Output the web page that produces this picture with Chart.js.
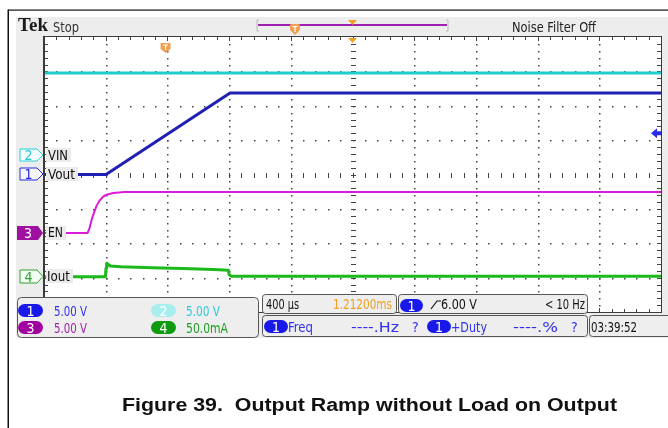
<!DOCTYPE html>
<html>
<head>
<meta charset="utf-8">
<script src="https://cdn.jsdelivr.net/npm/chart.js@4"></script>
<style>
html, body { margin: 0; padding: 0; background: #fff; }
#wrap { position: relative; width: 668px; height: 428px; }
#scope, #overlay { position: absolute; left: 0; top: 0; }
#overlay text { font-family: "DejaVu Sans Condensed", "DejaVu Sans", sans-serif; font-size: 14px; white-space: pre; }
#overlay .cap { font-family: "Liberation Sans", Arial, sans-serif; font-weight: bold; font-size: 18px; }
#overlay .tek { font-family: "Liberation Serif", serif; font-weight: bold; font-size: 19px; }
</style>
</head>
<body>
<div id="wrap">
<canvas id="scope" width="668" height="428"></canvas>
<svg id="overlay" width="668" height="428" xmlns="http://www.w3.org/2000/svg">
  <!-- top status bar -->
  <text class="tek" x="18" y="31" textLength="30" lengthAdjust="spacingAndGlyphs" fill="#1a1a1a">Tek</text>
  <text x="53" y="31.5" textLength="26" lengthAdjust="spacingAndGlyphs" fill="#333">Stop</text>
  <path d="M259 20 L257 20 L257 31 L259 31" fill="none" stroke="#bbb" stroke-width="1"/>
  <path d="M446 20 L448 20 L448 31 L446 31" fill="none" stroke="#bbb" stroke-width="1"/>
  <line x1="258" y1="25" x2="447" y2="25" stroke="#a020b0" stroke-width="2"/>
  <path d="M290 25 Q290 24 292 24 L298 24 Q300 24 300 25 L300 30 L295 35 L290 30 Z" fill="#f0a050"/>
  <path d="M292.5 26.5 L297.5 26.5 M295 26.5 L295 32" stroke="#fff" stroke-width="1.2"/>
  <path d="M348 20 L357 20 L352.5 25 Z" fill="#f0a020"/>
  <text x="512" y="31.5" textLength="84" lengthAdjust="spacingAndGlyphs" fill="#222">Noise Filter Off</text>

  <!-- channel reference markers -->
  <polygon points="20,149 37,149 43,155 37,161 20,161" fill="#f4ffff" stroke="#28d0d8" stroke-width="1"/>
  <text x="28.5" y="160" text-anchor="middle" fill="#28c8d0">2</text>
  <rect x="46" y="148" width="25" height="14" fill="#ebebeb"/>
  <text x="48" y="160" textLength="20" lengthAdjust="spacingAndGlyphs" fill="#111">VIN</text>

  <polygon points="20,168 37,168 43,174 37,180 20,180" fill="#f6f6ff" stroke="#2a2ae0" stroke-width="1"/>
  <text x="28.5" y="179" text-anchor="middle" fill="#2a2ae0">1</text>
  <rect x="46" y="167" width="32" height="14" fill="#ebebeb"/>
  <text x="48" y="178.5" textLength="27" lengthAdjust="spacingAndGlyphs" fill="#111">Vout</text>

  <polygon points="17,226 38,226 43,233 38,240 17,240" fill="#a010a0"/>
  <text x="28" y="238" text-anchor="middle" fill="#fff">3</text>
  <rect x="46" y="226" width="20" height="14" fill="#ebebeb"/>
  <text x="48" y="237" textLength="15" lengthAdjust="spacingAndGlyphs" fill="#111">EN</text>

  <polygon points="20,270 37,270 43,276.5 37,283 20,283" fill="#f4fff4" stroke="#30a030" stroke-width="1"/>
  <text x="28.5" y="281.5" text-anchor="middle" fill="#30a030">4</text>
  <rect x="46" y="269" width="27" height="14" fill="#ebebeb"/>
  <text x="47" y="280.5" textLength="23" lengthAdjust="spacingAndGlyphs" fill="#111">Iout</text>

  <!-- vertical settings panel -->
  <rect x="17.5" y="297.5" width="241" height="40" rx="4" fill="#eeeeee" stroke="#555" stroke-width="1"/>
  <rect x="18" y="304" width="25" height="13" rx="6.5" fill="#1818e8"/>
  <text x="30.5" y="315.5" text-anchor="middle" fill="#fff" font-size="13">1</text>
  <text x="54" y="315.5" textLength="33" lengthAdjust="spacingAndGlyphs" fill="#3030ee">5.00 V</text>
  <rect x="151" y="304" width="25" height="13" rx="6.5" fill="#a8eeee"/>
  <text x="163.5" y="315.5" text-anchor="middle" fill="#fff" font-size="13">2</text>
  <text x="186" y="315.5" textLength="34" lengthAdjust="spacingAndGlyphs" fill="#30c8d8">5.00 V</text>
  <rect x="18" y="321" width="25" height="13" rx="6.5" fill="#a000a0"/>
  <text x="30.5" y="332.5" text-anchor="middle" fill="#fff" font-size="13">3</text>
  <text x="54" y="332.5" textLength="33" lengthAdjust="spacingAndGlyphs" fill="#a020a8">5.00 V</text>
  <rect x="151" y="321" width="25" height="13" rx="6.5" fill="#109a10"/>
  <text x="163.5" y="332.5" text-anchor="middle" fill="#fff" font-size="13">4</text>
  <text x="186" y="332.5" textLength="42" lengthAdjust="spacingAndGlyphs" fill="#20a020">50.0mA</text>

  <!-- horizontal panel -->
  <rect x="262.5" y="294.5" width="134" height="19" rx="3" fill="#eeeeee" stroke="#555" stroke-width="1"/>
  <text x="266" y="309" textLength="33" lengthAdjust="spacingAndGlyphs" fill="#111">400 µs</text>
  <text x="333" y="309" textLength="59" lengthAdjust="spacingAndGlyphs" fill="#f0a020">1.21200ms</text>

  <!-- trigger panel -->
  <rect x="398.5" y="294.5" width="189" height="19" rx="3" fill="#eeeeee" stroke="#555" stroke-width="1"/>
  <rect x="400" y="299" width="23" height="13" rx="6.5" fill="#1818e8"/>
  <text x="411.5" y="310.5" text-anchor="middle" fill="#fff" font-size="13">1</text>
  <path d="M431 309 L437 301 L441 301" fill="none" stroke="#111" stroke-width="1.2"/>
  <text x="441" y="309" textLength="36" lengthAdjust="spacingAndGlyphs" fill="#111">6.00 V</text>
  <text x="545" y="309" textLength="40" lengthAdjust="spacingAndGlyphs" fill="#111">&lt; 10 Hz</text>

  <!-- measurement panel -->
  <rect x="262.5" y="315.5" width="325" height="21" rx="3" fill="#eeeeee" stroke="#555" stroke-width="1"/>
  <rect x="264" y="320" width="24" height="13" rx="6.5" fill="#1818e8"/>
  <text x="276" y="331.5" text-anchor="middle" fill="#fff" font-size="13">1</text>
  <text x="288" y="332" textLength="25" lengthAdjust="spacingAndGlyphs" fill="#3030ee">Freq</text>
  <text x="351" y="332" textLength="48" lengthAdjust="spacingAndGlyphs" fill="#3030ee">----.Hz</text>
  <text x="412" y="332" fill="#3030ee">?</text>
  <rect x="427" y="320" width="24" height="13" rx="6.5" fill="#1818e8"/>
  <text x="439" y="331.5" text-anchor="middle" fill="#fff" font-size="13">1</text>
  <text x="451" y="332" textLength="36" lengthAdjust="spacingAndGlyphs" fill="#3030ee">+Duty</text>
  <text x="513" y="332" textLength="45" lengthAdjust="spacingAndGlyphs" fill="#3030ee">----.%</text>
  <text x="571" y="332" fill="#3030ee">?</text>

  <!-- clock -->
  <rect x="589.5" y="315.5" width="90" height="21" rx="3" fill="#eeeeee" stroke="#555" stroke-width="1"/>
  <text x="591" y="332" textLength="46" lengthAdjust="spacingAndGlyphs" fill="#111">03:39:52</text>

  <!-- caption -->
  <text class="cap" x="122" y="411" textLength="495" lengthAdjust="spacingAndGlyphs" fill="#111">Figure 39.  Output Ramp without Load on Output</text>
</svg>
</div>
<script>
// time in microseconds from left edge of screen (400 us/div, 10 div)
const vinTime = [0, 4000];
const vinVolts = [11.9, 11.9];

const voutTime = [0, 402, 1206, 4000];
const voutVolts = [0, 0, 11.85, 11.85];

const enTime = [0, 283, 295, 310, 325, 340, 360, 385, 410, 450, 520, 4000];
const enVolts = [0, 0, 0.7, 2.0, 3.0, 3.9, 4.7, 5.3, 5.6, 5.8, 5.95, 5.97];

const ioutTime = [0, 398, 402, 406, 430, 500, 700, 900, 1100, 1195, 1200, 1215, 4000];
const ioutMa = [-0.3, -0.3, 12, 19.5, 15.5, 14.2, 13, 11.8, 10.4, 9.4, 3, 0.6, 0.6];

// scope channel settings: units per division and position offset (divisions)
const chPerDiv = [5, 5, 5, 50];          // Vout, VIN, EN, Iout
const chOffsetDiv = [0, 0.57, -1.70, -2.97];
const chColors = ['#2020b4', '#20cccc', '#d81cd8', '#1cb81c'];

const timeDiv = 400;
const trigTime = 788;   // trigger point (us from left edge)
const trigLevel = 6.0;  // V on ch1

function pts(t, v) {
    return t.map((x, i) => ({ x: x, y: v[i] }));
}

function chAxis(i) {
    return {
        type: 'linear', axis: 'y', display: false,
        min: (-4 - chOffsetDiv[i]) * chPerDiv[i],
        max: (4 - chOffsetDiv[i]) * chPerDiv[i]
    };
}

// screen backgrounds + graticule
const graticule = {
    id: 'graticule',
    beforeDraw(chart) {
        const c = chart.ctx, a = chart.chartArea;
        c.save();
        c.fillStyle = '#ffffff';
        c.fillRect(0, 0, chart.width, chart.height);
        c.fillStyle = '#ededed';
        c.fillRect(16, 17, 652, 321);
        c.fillStyle = '#ffffff';
        c.fillRect(a.left, a.top, a.right - a.left, a.bottom - a.top);
        c.restore();
    },
    beforeDatasetsDraw(chart) {
        const c = chart.ctx, a = chart.chartArea;
        const xs = chart.scales.x, ds = chart.scales.div;
        c.save();
        c.fillStyle = '#444';
        // vertical dotted lines
        for (let k = 1; k < 10; k++) {
            const px = Math.round(xs.getPixelForValue(k * timeDiv));
            for (let m = 1; m < 40; m++) {
                const py = Math.round(ds.getPixelForValue(-4 + m / 5));
                if (k === 5) c.fillRect(px - 2, py, 5, 1);
                else c.fillRect(px, py, 1.5, 1.5);
            }
        }
        // horizontal dotted lines
        for (let j = -3; j <= 3; j++) {
            const py = Math.round(ds.getPixelForValue(j));
            for (let m = 1; m < 50; m++) {
                const px = Math.round(xs.getPixelForValue(m * timeDiv / 5));
                if (j === 0) c.fillRect(px, py - 2, 1, 5);
                else c.fillRect(px, py, 1.5, 1.5);
            }
        }
        // edge ticks
        for (let m = 1; m < 50; m++) {
            const px = Math.round(xs.getPixelForValue(m * timeDiv / 5));
            const len = m % 5 === 0 ? 4 : 3;
            c.fillRect(px, a.top, 1, len);
            c.fillRect(px, a.bottom - len, 1, len);
        }
        for (let m = 1; m < 40; m++) {
            const py = Math.round(ds.getPixelForValue(-4 + m / 5));
            c.fillRect(a.left, py, 4, 1);
            c.fillRect(a.right - 4, py, 4, 1);
        }
        c.restore();
    },
    afterDraw(chart) {
        const c = chart.ctx, a = chart.chartArea;
        const xs = chart.scales.x;
        c.save();
        c.strokeStyle = '#3a3a3a';
        c.lineWidth = 1;
        c.strokeRect(a.left + 0.5, a.top - 0.5, a.right - a.left, a.bottom - a.top + 1);
        c.fillStyle = '#3a3a3a';
        c.fillRect(a.left - 1, a.top - 1, 2, a.bottom - a.top + 2);
        // expansion point marker (screen centre)
        const cx = xs.getPixelForValue(5 * timeDiv);
        c.fillStyle = '#f0a020';
        c.beginPath();
        c.moveTo(cx - 4.5, a.top + 1); c.lineTo(cx + 4.5, a.top + 1); c.lineTo(cx, a.top + 6);
        c.closePath(); c.fill();
        // trigger position marker
        const tx = xs.getPixelForValue(trigTime), ty = a.top + 5;
        c.fillStyle = '#f0a050';
        c.beginPath();
        c.moveTo(tx - 5, ty + 1); c.lineTo(tx + 5, ty + 1); c.lineTo(tx + 5, ty + 7);
        c.lineTo(tx, ty + 11); c.lineTo(tx - 5, ty + 7); c.closePath(); c.fill();
        c.strokeStyle = '#fff'; c.lineWidth = 1.2;
        c.beginPath();
        c.moveTo(tx - 2.5, ty + 3); c.lineTo(tx + 2.5, ty + 3);
        c.moveTo(tx, ty + 3); c.lineTo(tx, ty + 8);
        c.stroke();
        // trigger level arrow (ch1)
        const ly = chart.scales.y1.getPixelForValue(trigLevel);
        c.fillStyle = '#2a2ae8';
        c.beginPath();
        c.moveTo(a.right - 10, ly); c.lineTo(a.right - 4, ly - 5); c.lineTo(a.right - 4, ly + 5);
        c.closePath(); c.fill();
        c.fillRect(a.right - 5, ly - 2, 5, 4);
        // outer figure frame
        c.fillStyle = '#111';
        c.fillRect(8, 9.5, 660, 1.2);
        c.fillRect(7.5, 9.5, 1.5, 420);
        c.restore();
    }
};

const ctx = document.getElementById('scope').getContext('2d');
const scopeChart = new Chart(ctx, {
    type: 'line',
    data: {
        datasets: [
            { label: 'VIN', data: pts(vinTime, vinVolts), xAxisID: 'x', yAxisID: 'y2', borderColor: chColors[1], borderWidth: 3 },
            { label: 'Vout', data: pts(voutTime, voutVolts), xAxisID: 'x', yAxisID: 'y1', borderColor: chColors[0], borderWidth: 3 },
            { label: 'EN', data: pts(enTime, enVolts), xAxisID: 'x', yAxisID: 'y3', borderColor: chColors[2], borderWidth: 2 },
            { label: 'Iout', data: pts(ioutTime, ioutMa), xAxisID: 'x', yAxisID: 'y4', borderColor: chColors[3], borderWidth: 3 }
        ]
    },
    options: {
        responsive: false,
        animation: false,
        devicePixelRatio: 1,
        layout: { padding: { left: 44, top: 37, right: 7, bottom: 116 } },
        elements: { point: { radius: 0 }, line: { tension: 0, borderJoinStyle: 'round' } },
        plugins: { legend: { display: false }, tooltip: { enabled: false } },
        scales: {
            x: { type: 'linear', axis: 'x', display: false, min: 0, max: 10 * timeDiv },
            div: { type: 'linear', axis: 'y', display: false, min: -4, max: 4 },
            y1: chAxis(0),
            y2: chAxis(1),
            y3: chAxis(2),
            y4: chAxis(3)
        }
    },
    plugins: [graticule]
});
</script>
</body>
</html>
